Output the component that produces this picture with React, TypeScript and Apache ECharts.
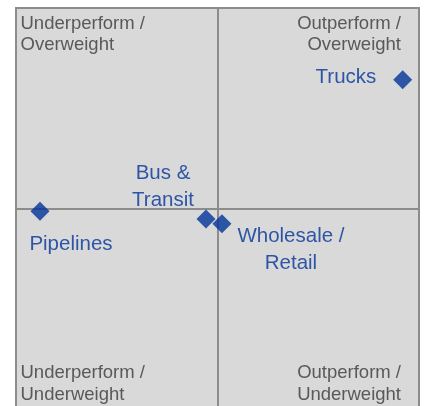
import React, { useEffect, useRef } from "react";
import * as echarts from "echarts";

const sectors = ["Trucks", "Pipelines", "Bus & Transit", "Wholesale / Retail"];
const labelTexts = ["Trucks", "Pipelines", "Bus &\nTransit", "Wholesale /\nRetail"];
const xValues = [0.919, -0.881, -0.057, 0.022];
const yValues = [0.643, -0.011, -0.05, -0.073];
const quadrantLabels = [
  "Underperform /\nOverweight",
  "Outperform /\nOverweight",
  "Underperform /\nUnderweight",
  "Outperform /\nUnderweight",
];

const labelOffsets: [number, number][] = [
  [-56.7, -4.7],
  [31, 31],
  [-43, -33.7],
  [69, 24.3],
];

const BLUE = "#003399";
const GRAY_TEXT = "#595959";
const LINE = "#8c8c8c";
const BLUE_FONT = "'Liberation Sans', Arial, sans-serif";
const GRAY_FONT = "'Liberation Sans', Arial, sans-serif";

export default function App() {
  const ref = useRef<HTMLDivElement>(null);
  useEffect(() => {
    if (!ref.current) return;
    const chart = echarts.init(ref.current, null, { renderer: "svg" });
    const qStyle = (text: string, x: number, y: number, align: string) => ({
      type: "text",
      x,
      y,
      silent: true,
      style: {
        text,
        fill: GRAY_TEXT,
        fontSize: 18.5,
        fontFamily: GRAY_FONT,
        lineHeight: 21.5,
        align,
        textAlign: align,
        verticalAlign: "top",
        textVerticalAlign: "top",
      },
    });
    chart.setOption({
      animation: false,
      grid: {
        left: 16,
        top: 8,
        width: 403,
        height: 402,
        outerBoundsMode: "none",
        containLabel: false,
        show: true,
        backgroundColor: "#d9d9d9",
        borderColor: LINE,
        borderWidth: 2,
      },
      xAxis: {
        type: "value",
        min: -1,
        max: 1,
        axisLine: { show: true, onZero: true, lineStyle: { color: LINE, width: 2 } },
        axisTick: { show: false },
        axisLabel: { show: false },
        splitLine: { show: false },
      },
      yAxis: {
        type: "value",
        min: -1,
        max: 1,
        axisLine: { show: true, onZero: true, lineStyle: { color: LINE, width: 2 } },
        axisTick: { show: false },
        axisLabel: { show: false },
        splitLine: { show: false },
      },
      graphic: [
        qStyle(quadrantLabels[0], 20.5, 11.5, "left"),
        qStyle(quadrantLabels[1], 401, 11.5, "right"),
        qStyle(quadrantLabels[2], 20.5, 361, "left"),
        qStyle(quadrantLabels[3], 401, 361, "right"),
      ],
      series: [
        {
          type: "scatter",
          symbol: "diamond",
          symbolSize: 19,
          itemStyle: { color: BLUE },
          data: sectors.map((name, i) => ({
            name,
            value: [xValues[i], yValues[i]],
            label: {
              show: true,
              position: "inside",
              offset: labelOffsets[i],
              formatter: labelTexts[i],
              color: BLUE,
              fontSize: 20.5,
              fontFamily: BLUE_FONT,
              lineHeight: 27.3,
              align: "center",
              verticalAlign: "middle",
            },
          })),
        },
      ],
    });
    return () => chart.dispose();
  }, []);
  return (
    <div
      ref={ref}
      style={{ position: "fixed", left: 0, top: 0, width: 428, height: 406 }}
    />
  );
}
